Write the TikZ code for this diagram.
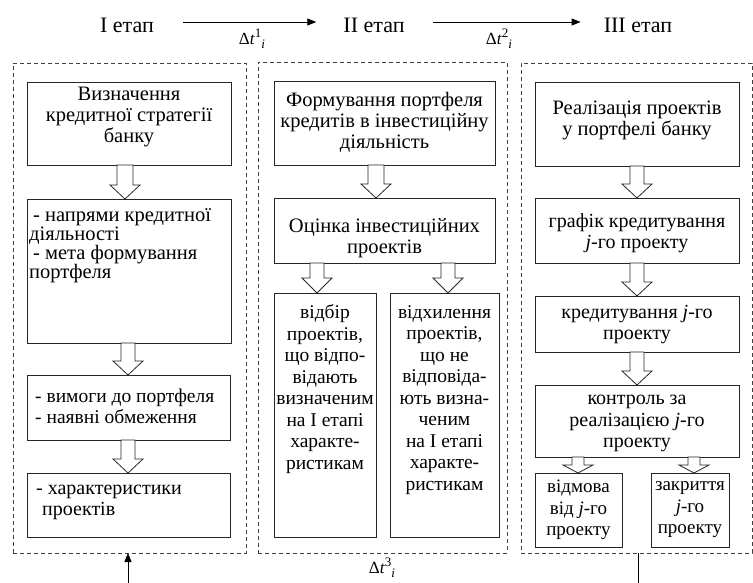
\documentclass[tikz,border=0pt]{standalone}
\usepackage{fontspec}
\setmainfont{Liberation Serif}
\usetikzlibrary{arrows.meta,calc}
\newcommand\dtlab[1]{Δ\textit{t}\raisebox{0.8ex}{\fontsize{13}{13}\selectfont #1}\raisebox{-0.6ex}{\fontsize{13}{13}\selectfont\textit{i}}}
\newcommand\blockarr[5]{% x, src, dst, shaft half width, head length
  \draw[barr] let \p1=(#2.south), \p2=(#3.north) in
    (#1pt-#4pt,\y1) -- (#1pt+#4pt,\y1) -- (#1pt+#4pt,\y2+#5pt) -- (#1pt+15pt,\y2+#5pt)
    -- (#1pt,\y2) -- (#1pt-15pt,\y2+#5pt) -- (#1pt-#4pt,\y2+#5pt) -- cycle;}
\tikzset{
  dbox/.style={draw=black!75, line width=0.7pt, dash pattern=on 4pt off 3pt, inner sep=0pt, outer sep=0pt},
  bx/.style={draw=black!85, line width=0.9pt, inner sep=0pt, outer sep=0pt},
  barr/.style={draw=black!85, line width=0.8pt, fill=white, line join=miter},
  txt/.style={inner sep=0pt, align=center, font=\fontsize{20}{21.5}\selectfont},
  txl/.style={inner sep=0pt, align=left, anchor=west, font=\fontsize{20}{21.5}\selectfont},
  hdr/.style={inner sep=0pt, font=\fontsize{22}{24}\selectfont},
  dlab/.style={inner sep=0pt, font=\fontsize{17}{19}\selectfont},
  harr/.style={line width=0.9pt, -{Triangle[length=9pt,width=7pt]}},
}
\begin{document}
\begin{tikzpicture}[x=1pt,y=-1pt]
\useasboundingbox (0,0) rectangle (753,583);
% header
\node[hdr] (s1) at (127,25) {I етап};
\node[hdr] (s2) at (374,25) {II етап};
\node[hdr] (s3) at (638,25) {III етап};
\draw[harr] ([xshift=29pt,yshift=3pt]s1.east) -- ([xshift=-27pt,yshift=3pt]s2.west);
\draw[harr] ([xshift=28pt,yshift=3pt]s2.east) -- ([xshift=-23pt,yshift=3pt]s3.west);
\node[dlab] (d1) at (252,39) {\dtlab{1}};
\node[dlab] (d2) at (499,39) {\dtlab{2}};
% dashed stage boxes
\node[dbox, minimum width=233pt, minimum height=490pt] (P1) at (129.5,308) {};
\node[dbox, minimum width=249pt, minimum height=491pt] (P2) at (382.5,307.5) {};
\node[dbox, minimum width=231pt, minimum height=490pt] (P3) at (636.5,308) {};
\node[dlab] (d3) at (382,568) {\dtlab{3}};
% column 1
\node[bx, minimum width=204pt, minimum height=83pt] (L1) at (129,123.5) {};
\node[bx, minimum width=204pt, minimum height=144pt] (L2) at (129,271) {};
\node[bx, minimum width=203pt, minimum height=65pt] (L3) at (128.5,407.5) {};
\node[bx, minimum width=203pt, minimum height=64pt] (L4) at (128.5,505) {};
\node[txt, font=\fontsize{20.5}{21}\selectfont] (tL1) at (129,117) {Визначення\\кредитної стратегії\\банку};
\node[txl, font=\fontsize{20.5}{19}\selectfont] (tL2) at (29,245.5) {\hspace*{4pt}- напрями кредитної\\діяльності\\\hspace*{4pt}- мета формування\\портфеля};
\node[txl, font=\fontsize{19.5}{21}\selectfont] (tL3) at (35,406.5) {- вимоги до портфеля\\- наявні обмеження};
\node[txl] (tL4) at (36,502.5) {- характеристики\\\hspace*{6pt}проектів};
\blockarr{125}{L1}{L2}{8}{14}
\blockarr{128}{L2}{L3}{7}{14}
\blockarr{128}{L3}{L4}{7}{14}
% column 2
\node[bx, minimum width=221pt, minimum height=84pt] (M1) at (384.5,123) {};
\node[bx, minimum width=221pt, minimum height=65pt] (M2) at (384.5,230.5) {};
\node[bx, minimum width=102pt, minimum height=244pt] (M3) at (325,415) {};
\node[bx, minimum width=109pt, minimum height=244pt] (M4) at (444.5,415) {};
\node[txt, font=\fontsize{20.5}{21}\selectfont] (tM1) at (384.5,122) {Формування портфеля\\кредитів в інвестиційну\\діяльність};
\node[txt, font=\fontsize{20.5}{21}\selectfont] (tM2) at (384.5,238) {Оцінка інвестиційних\\проектів};
\node[txt, font=\fontsize{19.5}{21.5}\selectfont] (tM3) at (325,389) {відбір\\проектів,\\що відпо-\\відають\\визначеним\\на I етапі\\характе-\\ристикам};
\node[txt, font=\fontsize{19.5}{21.5}\selectfont] (tM4) at (444.5,400) {відхилення\\проектів,\\що не\\відповіда-\\ють визна-\\ченим\\на I етапі\\характе-\\ристикам};
\blockarr{376}{M1}{M2}{8}{14}
\blockarr{317}{M2}{M3}{7}{15}
\blockarr{448}{M2}{M4}{7}{15}
% column 3
\node[bx, minimum width=204pt, minimum height=84pt] (R1) at (637,124) {};
\node[bx, minimum width=204pt, minimum height=65pt] (R2) at (637,230.5) {};
\node[bx, minimum width=204pt, minimum height=56pt] (R3) at (637,324) {};
\node[bx, minimum width=204pt, minimum height=72pt] (R4) at (637,421) {};
\node[bx, minimum width=87pt, minimum height=74pt] (R5) at (578.5,510) {};
\node[bx, minimum width=78pt, minimum height=74pt] (R6) at (690,510) {};
\node[txt, font=\fontsize{20.5}{21}\selectfont] (tR1) at (637,120.5) {Реалізація проектів\\у портфелі банку};
\node[txt] (tR2) at (637,233) {графік кредитування\\\textit{j}-го проекту};
\node[txt] (tR3) at (637,324.5) {кредитування \textit{j}-го\\проекту};
\node[txt] (tR4) at (637,423.5) {контроль за\\реалізацією \textit{j}-го\\проекту};
\node[txt, font=\fontsize{19}{21.5}\selectfont] (tR5) at (578.5,510) {відмова\\від \textit{j}-го\\проекту};
\node[txt, font=\fontsize{19}{21.5}\selectfont] (tR6) at (690,510) {закриття\\\textit{j}-го\\проекту};
\blockarr{637}{R1}{R2}{7}{14}
\blockarr{637}{R2}{R3}{7}{14}
\blockarr{637}{R3}{R4}{7}{14}
\blockarr{578}{R4}{R5}{6}{8}
\blockarr{694}{R4}{R6}{6}{8}
% feedback lines at bottom
\coordinate (fb1) at (128,583);
\coordinate (fb2) at (638,583);
\draw[harr] (fb1) -- (fb1 |- P1.south);
\draw[line width=0.9pt] (fb2 |- P3.south) -- (fb2);
\end{tikzpicture}
\end{document}
